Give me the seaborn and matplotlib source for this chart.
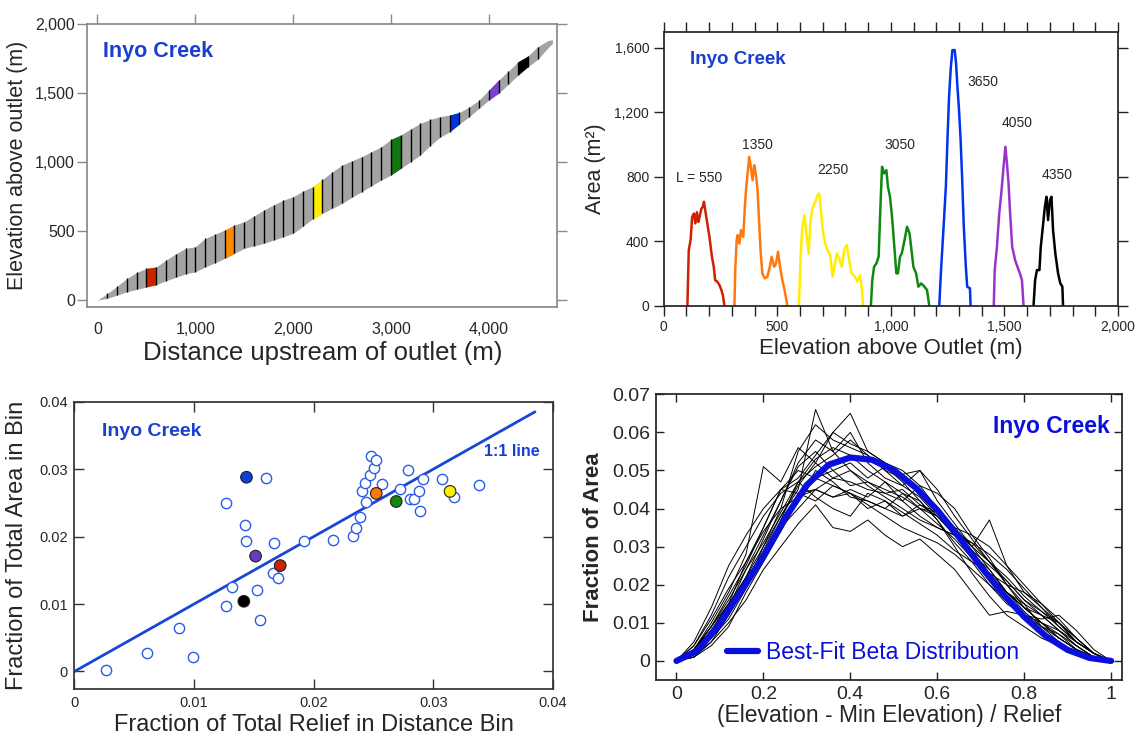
import numpy as np
import pandas as pd
import matplotlib.pyplot as plt
import seaborn as sns
from matplotlib.ticker import FuncFormatter, MultipleLocator

sns.set_theme(style="ticks")
plt.rcParams['font.family'] = ['Liberation Sans', 'DejaVu Sans']

# ---------------- data ----------------
# (a) long profile band, 100 m distance bins
dist = list(range(0, 4700, 100)) + [4650]
band_low = [0, 12, 36, 60, 77, 95, 112, 140, 165, 190, 205, 240, 270, 302, 339,
            375, 393, 411, 435, 459, 484, 535, 590, 629, 665, 701, 745, 786, 828,
            870, 907, 955, 1003, 1052, 1120, 1180, 1221, 1277, 1330, 1390, 1451,
            1500, 1565, 1632, 1693, 1745, 1826, 1860]
band_high = [0, 48, 100, 157, 200, 230, 240, 290, 335, 375, 387, 447, 478, 508, 544,
             568, 610, 653, 690, 725, 750, 790, 822, 875, 930, 979, 1010, 1040, 1076,
             1112, 1165, 1197, 1240, 1282, 1310, 1330, 1342, 1361, 1400, 1450, 1523,
             1596, 1660, 1729, 1770, 1838, 1880, 1890]

# highlighted bins (bin centre L) and their colours
bin_L = [550, 1350, 2250, 3050, 3650, 4050, 4350]
bin_colors = ["#cc2200", "#ff8800", "#ffee00", "#117711", "#0033dd", "#7a3fd0", "#000000"]
area_colors = ["#cc2200", "#ff7711", "#ffee00", "#118811", "#0033ee", "#9933cc", "#000000"]

# (b) hypsometry of each highlighted bin
hyp_elev = [
    [104, 110, 118, 125, 133, 139, 146, 152, 158, 165, 172, 177, 187, 194, 201, 212, 220, 226, 235, 245, 253, 260, 267],
    [311, 315, 321, 325, 333, 340, 350, 357, 362, 369, 376, 383, 391, 398, 405, 413, 420, 427, 434, 445, 456, 467, 475, 486, 494, 503, 512, 522, 532, 544],
    [595, 602, 609, 619, 628, 638, 645, 654, 667, 677, 685, 692, 700, 711, 721, 733, 743, 752, 762, 772, 784, 794, 806, 816, 827, 842, 852, 864, 871, 878],
    [912, 918, 926, 936, 946, 955, 961, 970, 980, 987, 996, 1005, 1014, 1024, 1031, 1040, 1048, 1060, 1071, 1082, 1089, 1099, 1111, 1121, 1133, 1148, 1159, 1169],
    [1213, 1220, 1232, 1242, 1249, 1256, 1264, 1271, 1281, 1287, 1292, 1300, 1307, 1314, 1321, 1330, 1336, 1348, 1351],
    [1453, 1457, 1467, 1477, 1486, 1496, 1504, 1511, 1518, 1525, 1534, 1547, 1557, 1568, 1577, 1584],
    [1628, 1635, 1643, 1654, 1660, 1669, 1678, 1685, 1692, 1700, 1707, 1714, 1724, 1736, 1746, 1755, 1758],
]
hyp_area = [
    [0, 345, 407, 551, 572, 511, 580, 520, 551, 600, 614, 645, 551, 490, 428, 304, 242, 159, 150, 128, 100, 66, 0],
    [0, 239, 407, 438, 386, 469, 428, 614, 717, 820, 924, 862, 779, 872, 820, 717, 511, 324, 200, 170, 180, 242, 304, 242, 262, 335, 242, 159, 97, 0],
    [0, 283, 469, 562, 449, 324, 511, 603, 645, 686, 696, 593, 469, 386, 345, 314, 180, 242, 324, 293, 242, 345, 376, 283, 200, 180, 149, 190, 118, 0],
    [0, 159, 242, 262, 304, 655, 862, 821, 841, 738, 676, 552, 387, 201, 201, 304, 325, 407, 490, 449, 366, 242, 201, 118, 139, 118, 97, 0],
    [0, 201, 490, 738, 1027, 1296, 1482, 1586, 1586, 1503, 1379, 1213, 1027, 779, 490, 242, 118, 108, 0],
    [0, 221, 366, 573, 697, 862, 986, 883, 759, 573, 366, 283, 242, 201, 159, 0],
    [0, 159, 221, 221, 366, 490, 614, 676, 531, 655, 676, 469, 325, 201, 139, 118, 0],
]
hyp_labels = ["L = 550", "1350", "2250", "3050", "3650", "4050", "4350"]
hyp_label_x = [154, 414, 743, 1038, 1407, 1557, 1734]
hyp_label_y = [792, 996, 841, 996, 1389, 1135, 810]

# (c) fraction of area vs fraction of relief per distance bin
relief_open = [0.00264, 0.0061, 0.0099, 0.00875, 0.01264, 0.0132, 0.01264, 0.01426, 0.01438,
               0.0160, 0.01669, 0.0166, 0.01705, 0.01526, 0.01547, 0.01918, 0.0216, 0.02325,
               0.0235, 0.02386, 0.0244, 0.0240, 0.02426, 0.0247, 0.02477, 0.0250, 0.0252,
               0.02568, 0.0272, 0.02787, 0.02805, 0.0284, 0.0288, 0.0291, 0.02888, 0.0307,
               0.03173, 0.03383]
area_open = [0.00025, 0.0028, 0.0021, 0.0064, 0.0097, 0.0125, 0.0250, 0.0217, 0.0193,
             0.0287, 0.0190, 0.0146, 0.0138, 0.0121, 0.0077, 0.0193, 0.0195, 0.0201,
             0.0212, 0.0229, 0.0251, 0.0267, 0.0280, 0.0292, 0.0320, 0.0301, 0.0313,
             0.0278, 0.0270, 0.0299, 0.0255, 0.0255, 0.0268, 0.0285, 0.0238, 0.0286,
             0.0259, 0.0277]
relief_sel = [0.0172, 0.02523, 0.0314, 0.0269, 0.01438, 0.01514, 0.01416]
area_sel = [0.0157, 0.0264, 0.0267, 0.0252, 0.0288, 0.0171, 0.0104]
sel_colors = ["#cc2200", "#ff7711", "#ffee00", "#118811", "#0a3fd8", "#6a3bc0", "#000000"]
one_to_one = [0.0, 0.0385]

# (d) normalised hypsometry of every bin (x 1e-3) and best-fit beta
norm_x = [0, .04, .08, .12, .16, .20, .24, .28, .32, .36, .40, .44, .48, .52, .56,
          .60, .64, .68, .72, .76, .80, .84, .88, .92, .96, 1.0]
norm_curves = [
    [0, 3, 9, 16, 24, 33, 42, 52, 58, 55, 50, 47, 45, 43, 40, 38, 33, 28, 24, 18, 13, 9, 6, 3, 1, 0],
    [0, 2, 6, 14, 22, 30, 38, 45, 66, 55, 60, 52, 48, 46, 50, 45, 38, 32, 26, 20, 14, 10, 6, 3, 1, 0],
    [0, 4, 12, 22, 30, 38, 44, 47, 43, 40, 38, 44, 42, 39, 36, 33, 29, 26, 20, 15, 12, 10, 8, 4, 1, 0],
    [0, 1, 5, 10, 16, 24, 30, 36, 41, 35, 34, 37, 33, 30, 32, 28, 24, 18, 12, 13, 12, 9, 7, 4, 1, 0],
    [0, 3, 10, 18, 28, 51, 47, 56, 52, 60, 65, 55, 52, 49, 50, 42, 36, 30, 24, 18, 14, 10, 6, 3, 1, 0],
    [0, 2, 8, 15, 22, 28, 35, 40, 45, 48, 47, 45, 44, 42, 46, 40, 35, 30, 37, 25, 18, 14, 10, 5, 2, 0],
    [0, 5, 14, 25, 33, 40, 45, 50, 48, 46, 44, 41, 38, 35, 33, 31, 28, 24, 20, 16, 12, 11, 12, 8, 3, 0],
    [0, 2, 7, 13, 20, 30, 40, 55, 62, 58, 56, 54, 50, 48, 45, 40, 34, 29, 23, 18, 14, 10, 7, 3, 1, 0],
    [0, 3, 8, 15, 26, 35, 45, 44, 42, 46, 44, 40, 42, 38, 40, 36, 32, 27, 22, 18, 14, 12, 10, 6, 2, 0],
    [0, 1, 4, 9, 18, 26, 34, 42, 48, 50, 46, 47, 44, 45, 41, 38, 34, 30, 26, 21, 16, 12, 8, 5, 2, 0],
    [0, 3, 9, 17, 25, 35, 45, 48, 54, 60, 57, 55, 52, 50, 46, 44, 40, 33, 27, 20, 15, 9, 5, 2, 1, 0],
    [0, 2, 6, 12, 21, 29, 38, 46, 52, 48, 50, 46, 43, 40, 37, 35, 33, 31, 28, 24, 19, 14, 9, 5, 2, 0],
    [0, 4, 11, 19, 26, 34, 40, 43, 45, 43, 45, 43, 47, 44, 42, 37, 31, 26, 23, 20, 18, 15, 10, 5, 2, 0],
    [0, 2, 7, 14, 22, 32, 42, 51, 55, 50, 52, 48, 51, 47, 42, 37, 30, 23, 17, 12, 9, 6, 4, 2, 1, 0],
    [0, 3, 9, 15, 20, 28, 36, 44, 45, 43, 44, 42, 40, 38, 41, 39, 34, 31, 26, 22, 17, 13, 9, 5, 2, 0],
    [0, 2, 6, 11, 19, 27, 37, 47, 53, 56, 54, 50, 47, 42, 38, 35, 33, 29, 25, 21, 16, 13, 10, 6, 2, 0],
    [0, 1, 5, 12, 20, 28, 35, 42, 50, 47, 43, 42, 40, 44, 40, 39, 35, 33, 30, 25, 20, 15, 11, 6, 2, 0],
    [0, 3, 8, 14, 24, 31, 39, 47, 51, 54, 58, 54, 50, 46, 43, 38, 33, 28, 22, 18, 15, 12, 8, 4, 1, 0],
]
beta_x = [0, .05, .10, .15, .20, .25, .30, .35, .40, .45, .50, .55, .60, .65, .70,
          .75, .80, .85, .90, .95, 1.0]
beta_y = [0, 2.8, 9.9, 18.5, 27.4, 37.5, 46.2, 51.5, 53.4, 52.8, 50.1, 45.5, 39.6,
          32.5, 24.8, 17.7, 11.6, 6.5, 2.9, 0.8, 0]

title_blue = "#1a3fd0"
comma = FuncFormatter(lambda v, p: f"{v:,.0f}")
plain = FuncFormatter(lambda v, p: "0" if v == 0 else f"{v:g}")

fig = plt.figure(figsize=(11.37, 7.36), dpi=100)
ax1 = fig.add_axes([0.0768, 0.5833, 0.4135, 0.3837])
ax2 = fig.add_axes([0.5838, 0.5846, 0.3995, 0.3723])
ax3 = fig.add_axes([0.0655, 0.0639, 0.4208, 0.3903])
ax4 = fig.add_axes([0.577, 0.0761, 0.4098, 0.3882])

# ---------------- (a) profile ----------------
ax1.fill_between(dist, band_low, band_high, color="#a3a3a3", lw=0)
ax1.vlines(dist[1:-2], band_low[1:-2], band_high[1:-2], color="black", lw=1.0)
for L, c in zip(bin_L, bin_colors):
    i = dist.index(L - 50)
    ax1.fill_between(dist[i:i + 2], band_low[i:i + 2], band_high[i:i + 2], color=c, lw=0)
ax1.set_xlim(-104, 4702)
ax1.set_ylim(-48, 2000)
ax1.xaxis.set_major_locator(MultipleLocator(1000))
ax1.yaxis.set_major_locator(MultipleLocator(500))
ax1.xaxis.set_major_formatter(comma)
ax1.yaxis.set_major_formatter(comma)
for s in ax1.spines.values():
    s.set_color("#8a8a8a")
ax1.tick_params(direction="out", length=7, width=1, color="#8a8a8a",
                left=True, right=True, top=True, bottom=False, labelsize=11.5, pad=2)
ax1.tick_params(axis="x", pad=4)
ax1.set_xlabel("Distance upstream of outlet (m)", fontsize=18.5, labelpad=3)
ax1.set_ylabel("Elevation above outlet (m)", fontsize=15.5, labelpad=5)
ax1.text(0.033, 0.905, "Inyo Creek", transform=ax1.transAxes, color=title_blue,
         fontsize=15.5, fontweight="bold", va="center")

# ---------------- (b) hypsometry ----------------
hyp = pd.concat([pd.DataFrame({"elev": e, "area": a, "bin": lab})
                 for e, a, lab in zip(hyp_elev, hyp_area, hyp_labels)])
sns.lineplot(data=hyp, x="elev", y="area", hue="bin", palette=area_colors,
             sort=False, estimator=None, lw=1.8, legend=False, ax=ax2)
for lab, tx, ty in zip(hyp_labels, hyp_label_x, hyp_label_y):
    ax2.text(tx, ty, lab, fontsize=10, ha="center", va="center")
ax2.set_xlim(0, 2000)
ax2.set_ylim(0, 1700)
ax2.xaxis.set_major_locator(MultipleLocator(500))
ax2.xaxis.set_minor_locator(MultipleLocator(100))
ax2.yaxis.set_major_locator(MultipleLocator(400))
ax2.xaxis.set_major_formatter(comma)
ax2.yaxis.set_major_formatter(comma)
for s in ax2.spines.values():
    s.set_color("#222222")
ax2.tick_params(which="both", direction="out", length=7, width=1, color="#222222",
                left=True, right=True, top=True, bottom=True, labelsize=10)
ax2.tick_params(which="minor", length=7, left=False, right=False)
ax2.set_xlabel("Elevation above Outlet (m)", fontsize=16, labelpad=3)
ax2.set_ylabel("Area (m\u00b2)", fontsize=15.5, labelpad=6)
ax2.text(0.057, 0.897, "Inyo Creek", transform=ax2.transAxes, color=title_blue,
         fontsize=13.5, fontweight="bold", va="center")

# ---------------- (c) area vs relief ----------------
ax3.plot(one_to_one, one_to_one, color="#1847d8", lw=2.0, zorder=1)
pts = pd.DataFrame({"relief": relief_open, "area": area_open})
sns.scatterplot(data=pts, x="relief", y="area", s=55, facecolor="white",
                edgecolor="#2a5ce8", linewidth=1.0, ax=ax3, zorder=2)
sel = pd.DataFrame({"relief": relief_sel, "area": area_sel, "bin": bin_L})
sns.scatterplot(data=sel, x="relief", y="area", hue="bin", palette=sel_colors,
                s=70, edgecolor="#222222", linewidth=0.8, legend=False, ax=ax3, zorder=3)
ax3.set_xlim(0, 0.04)
ax3.set_ylim(-0.0026, 0.04)
ax3.xaxis.set_major_locator(MultipleLocator(0.01))
ax3.yaxis.set_major_locator(MultipleLocator(0.01))
ax3.xaxis.set_major_formatter(plain)
ax3.yaxis.set_major_formatter(plain)
for s in ax3.spines.values():
    s.set_color("#333333")
ax3.tick_params(direction="in", length=7, width=1, color="#333333",
                left=True, right=True, top=True, bottom=True, labelsize=10.5, pad=5)
ax3.set_xlabel("Fraction of Total Relief in Distance Bin", fontsize=17, labelpad=3)
ax3.set_ylabel("Fraction of Total Area in Bin", fontsize=17, labelpad=8)
ax3.text(0.057, 0.898, "Inyo Creek", transform=ax3.transAxes, color=title_blue,
         fontsize=14, fontweight="bold", va="center")
ax3.text(0.973, 0.828, "1:1 line", transform=ax3.transAxes, color=title_blue,
         fontsize=11.5, fontweight="bold", va="center", ha="right")

# ---------------- (d) normalised hypsometry ----------------
curves = pd.concat([pd.DataFrame({"x": norm_x, "frac": np.array(c) * 1e-3, "bin": k})
                    for k, c in enumerate(norm_curves)])
sns.lineplot(data=curves, x="x", y="frac", units="bin", estimator=None, sort=False,
             color="black", lw=0.7, ax=ax4)
beta = pd.DataFrame({"x": beta_x, "frac": np.array(beta_y) * 1e-3})
sns.lineplot(data=beta, x="x", y="frac", color="#0a10dc", lw=4.5,
             label="Best-Fit Beta Distribution", ax=ax4)
ax4.legend(loc="center left", bbox_to_anchor=(0.152, 0.0945), frameon=False,
           fontsize=16.5, labelcolor="#0a10dc", handlelength=1.35, handletextpad=0.35,
           borderpad=0, borderaxespad=0)
ax4.set_xlim(-0.047, 1.025)
ax4.set_ylim(-0.005, 0.07)
ax4.xaxis.set_major_locator(MultipleLocator(0.2))
ax4.yaxis.set_major_locator(MultipleLocator(0.01))
ax4.xaxis.set_major_formatter(plain)
ax4.yaxis.set_major_formatter(plain)
for s in ax4.spines.values():
    s.set_color("#222222")
ax4.tick_params(direction="in", length=6, width=1, color="#222222",
                left=True, right=True, top=True, bottom=True, labelsize=14, pad=4)
ax4.set_xlabel("(Elevation - Min Elevation) / Relief", fontsize=16.5, labelpad=1)
ax4.set_ylabel("Fraction of Area", fontsize=16, fontweight="bold", labelpad=6)
ax4.text(0.974, 0.886, "Inyo Creek", transform=ax4.transAxes, color="#0a10dc",
         fontsize=16.5, fontweight="bold", va="center", ha="right")

fig.savefig("out.png", dpi=100)
